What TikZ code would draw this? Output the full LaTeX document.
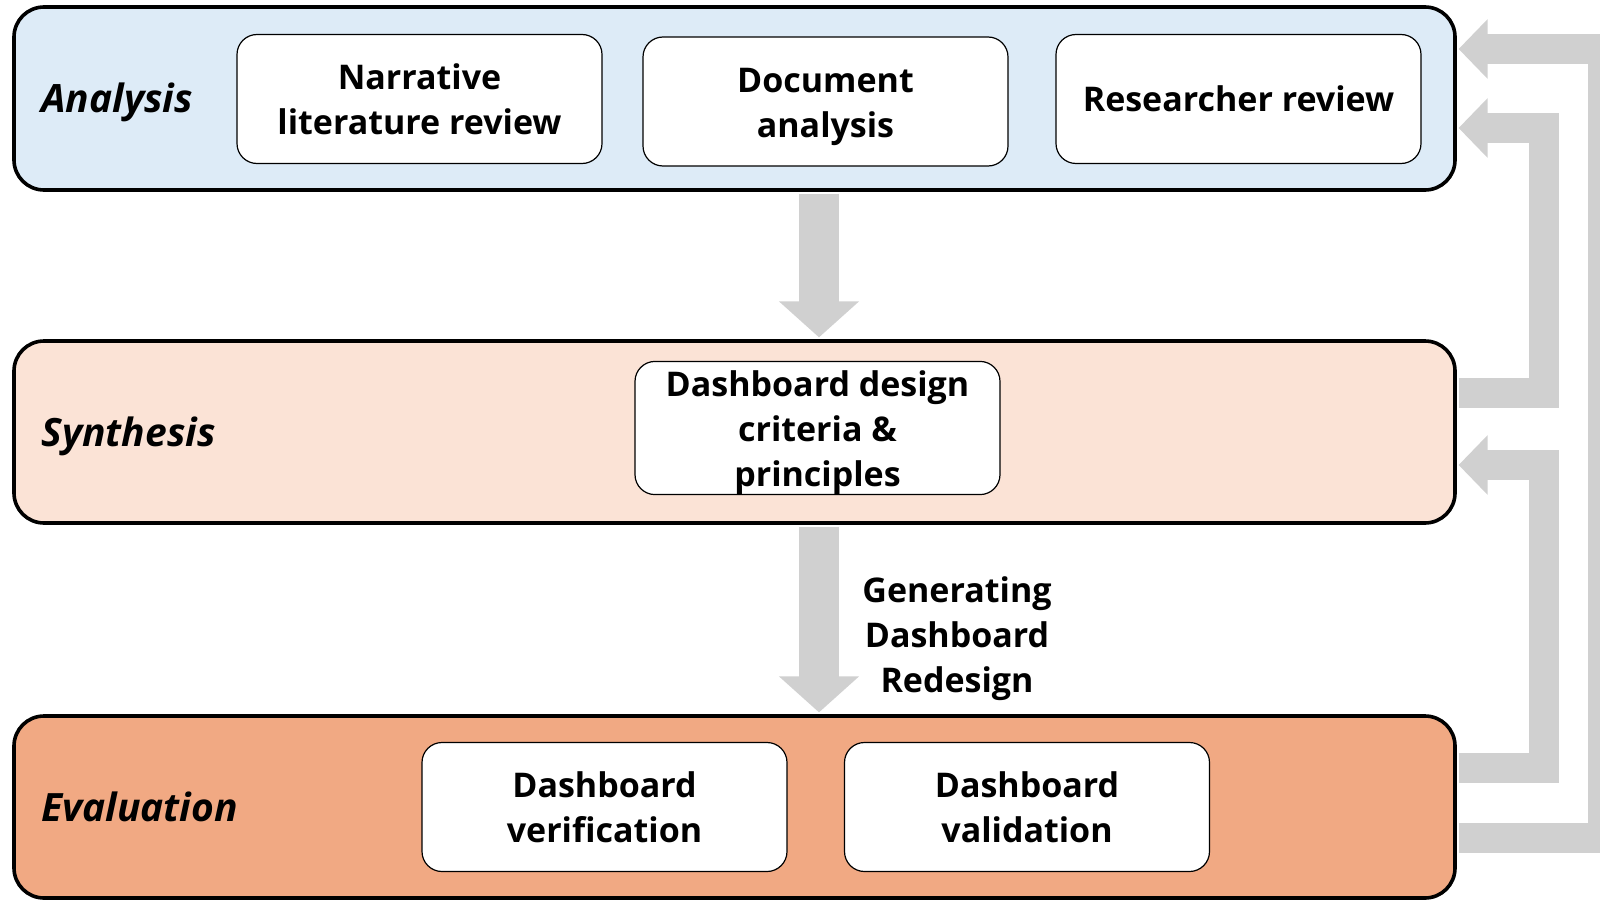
\documentclass[tikz,border=0pt]{standalone}
\usepackage{fontspec}
\setmainfont{Open Sans}
\usetikzlibrary{arrows.meta}
\definecolor{anafill}{HTML}{DDEBF7}
\definecolor{synfill}{HTML}{FBE3D6}
\definecolor{evafill}{HTML}{F1A983}
\definecolor{arrowgray}{HTML}{D0D0D0}
\newcommand{\lowstrut}{\rule{0pt}{17.5pt}}
\tikzset{
  band/.style={draw=black, line width=1.8pt, rounded corners=15pt, minimum width=720.5pt, inner sep=0pt},
  stepbox/.style={draw=black, line width=0.6pt, rounded corners=10pt, fill=white, minimum width=182.5pt, minimum height=64.5pt, align=center, inner sep=2pt, font=\fontsize{17}{22.5}\selectfont\bfseries},
  phase/.style={anchor=west, inner sep=0pt, font=\fontsize{19.5}{22}\selectfont\bfseries\itshape},
  feedback/.style={draw=arrowgray, line width=15pt, shorten <=0.9pt, shorten >=0.9pt, -{Triangle[width=29pt,length=14.5pt]}},
  flow/.style={draw=arrowgray, line width=20pt, shorten <=0.9pt, shorten >=0.9pt, -{Triangle[width=39pt,length=18pt]}}
}
\begin{document}
\begin{tikzpicture}[x=0.5pt, y=-0.5pt]
	\useasboundingbox (0,0) rectangle (1600,899);
	\clip (0,0) rectangle (1600,899);

	% phases
	\node[band, fill=anafill, minimum height=91.5pt] (ana) at (734.5,98.5) {};
	\node[band, fill=synfill, minimum height=91pt] (syn) at (734.5,432) {};
	\node[band, fill=evafill, minimum height=91pt] (eva) at (734.5,807) {};

	\node[phase] (analab) at (41,102) {Analysis};
	\node[phase] (synlab) at (41,436) {Synthesis};
	\node[phase] (evalab) at (41,807) {Evaluation};

	% steps
	\node[stepbox] (narr) at (419.5,99) {Narrative\\literature review};
	\node[stepbox] (docan) at (825.5,101.5) {\lowstrut Document\\analysis};
	\node[stepbox] (resrev) at (1238.5,99) {Researcher review};
	\node[stepbox, inner ysep=0pt] (crit) at (817.5,428) {\lowstrut Dashboard design\\criteria \&\\principles};
	\node[stepbox] (verif) at (604.5,807) {Dashboard\\verification};
	\node[stepbox] (valid) at (1027,807) {Dashboard\\validation};

	% arrows
	\path[flow] (ana.south -| 819,0) -- (syn.north -| 819,0);
	\path[flow] (syn.south -| 819,0) -- (eva.north -| 819,0);
	\node[align=center, font=\fontsize{17}{22.5}\selectfont\bfseries] (redesign) at (957,639) {Generating\\Dashboard\\Redesign};

	\path[feedback] (eva.east |- 0,838) -| (1603,49) -- (ana.east |- 0,49);
	\path[feedback] (syn.east |- 0,393) -| (1544,128) -- (ana.east |- 0,128);
	\path[feedback] (eva.east |- 0,768) -| (1544,465) -- (syn.east |- 0,465);
\end{tikzpicture}
\end{document}
